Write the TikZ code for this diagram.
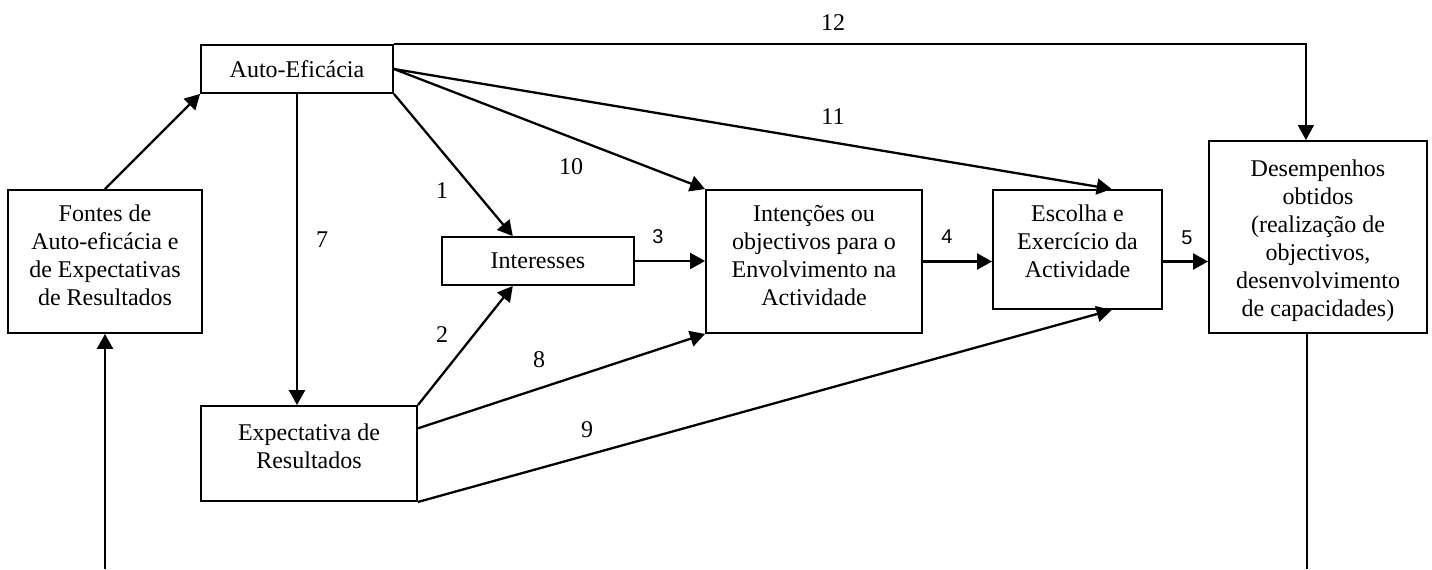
\documentclass[tikz,border=0pt]{standalone}
\usepackage{fontspec}
\setmainfont{Liberation Serif}
\newfontfamily\labelsans{Liberation Sans}
\usetikzlibrary{arrows.meta,calc}
\begin{document}
\begin{tikzpicture}[x=0.5pt,y=-0.5pt,
  box/.style={draw, line width=0.95pt, rectangle, inner sep=0pt},
  txt/.style={align=center, inner sep=0pt, font=\fontsize{12}{14}\selectfont},
  num/.style={inner sep=0pt, font=\fontsize{12}{14}\selectfont},
  snum/.style={inner sep=0pt, font=\labelsans\fontsize{10}{12}\selectfont},
  link/.style={line width=1.15pt, -{Triangle[length=7.5pt,width=8pt]}},
  thinlink/.style={line width=0.75pt, -{Triangle[length=7.5pt,width=8pt]}},
  plain/.style={line width=0.75pt}]
\useasboundingbox (0,0) rectangle (1432,569);

% boxes
\node[box, txt, minimum width=96pt, minimum height=24pt] (auto) at (297,69) {Auto-Efic\'acia};
\node[box, minimum width=97pt, minimum height=71.5pt] (fontes) at (105,261.5) {};
\node[txt, anchor=north] (fontesT) at ([yshift=-7.5pt]fontes.north) {Fontes de\\Auto-efic\'acia e\\de Expectativas\\de Resultados};
\node[box, txt, minimum width=96pt, minimum height=24pt] (inter) at (538,261) {Interesses};
\node[box, minimum width=108pt, minimum height=71.5pt] (inten) at (814,261.5) {};
\node[txt, anchor=north] (intenT) at ([yshift=-8pt]inten.north) {Intenções ou\\objectivos para o\\Envolvimento na\\Actividade};
\node[box, minimum width=84.5pt, minimum height=59.5pt] (escolha) at (1077.5,249.5) {};
\node[txt, anchor=north] (escolhaT) at ([yshift=-7.5pt]escolha.north) {Escolha e\\Exercício da\\Actividade};
\node[box, minimum width=109pt, minimum height=96pt] (desemp) at (1318,237) {};
\node[txt, anchor=north] (desempT) at ([yshift=-9.5pt]desemp.north) {Desempenhos\\obtidos\\(realização de\\objectivos,\\desenvolvimento\\de capacidades)};
\node[box, minimum width=108pt, minimum height=47.5pt] (expect) at (309,453.5) {};
\node[txt, anchor=north] (expectT) at ([yshift=-9pt]expect.north) {Expectativa de\\Resultados};

% attachment points on box edges
\coordinate (interTop) at ($(inter.north west)!0.37!(inter.north east)$);
\coordinate (interBot) at ($(inter.south west)!0.37!(inter.south east)$);
\coordinate (escTop) at ($(escolha.north west)!0.70!(escolha.north east)$);
\coordinate (escBot) at ($(escolha.south west)!0.70!(escolha.south east)$);
\coordinate (desTop) at ($(desemp.north west)!0.445!(desemp.north east)$);
\coordinate (expRight) at ($(expect.north east)!0.24!(expect.south east)$);
\coordinate (fbR) at (1307,569);
\coordinate (fbL) at (105,569);

% connectors
\draw[link] (fontes.north) -- (auto.south west);
\draw[link] (auto.south) -- (auto.south |- expect.north);
\draw[link] (auto.south east) -- (interTop);
\draw[link] (expect.north east) -- (interBot);
\draw[link] (auto.east) -- (inten.north west);
\draw[link] (auto.east) -- (escTop);
\draw[thinlink] (auto.north east) -| (desTop);
\draw[link] (inter.east) -- (inter.east -| inten.west);
\draw[link] (inten.east) -- (inten.east -| escolha.west);
\draw[link] (inten.east -| escolha.east) -- (inten.east -| desemp.west);
\draw[link] (expRight) -- (inten.south west);
\draw[link] (expect.south east) -- (escBot);
\draw[plain] (fbR |- desemp.south) -- (fbR);
\draw[link] (fbL) -- (fontes.south);

% path numbers
\node[num] (n1) at (442,191) {1};
\node[num] (n2) at (442,335) {2};
\node[snum] (n3) at (658,237) {3};
\node[snum] (n4) at (947,237) {4};
\node[snum] (n5) at (1187,238) {5};
\node[num] (n7) at (322,240) {7};
\node[num] (n8) at (539,360) {8};
\node[num] (n9) at (587,430) {9};
\node[num] (n10) at (571,167) {10};
\node[num] (n11) at (833,117) {11};
\node[num] (n12) at (833,23) {12};
\end{tikzpicture}
\end{document}
